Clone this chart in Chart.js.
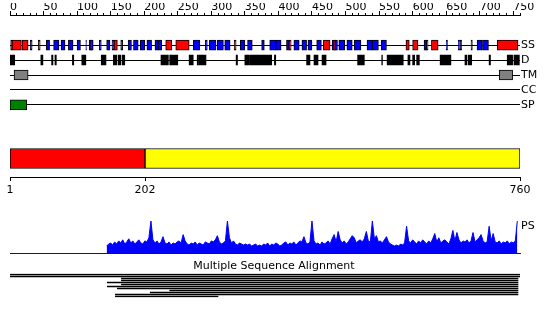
<!DOCTYPE html>
<html>
<head>
<meta charset="utf-8">
<script src="https://cdn.jsdelivr.net/npm/chart.js@4.4.1/dist/chart.umd.min.js"></script>
<style>
  html, body { margin: 0; padding: 0; background: #fff; }
  body { width: 550px; height: 317px; position: relative; overflow: hidden; }
  canvas { position: absolute; left: 0; }
</style>
</head>
<body>
<canvas id="ruler" width="550" height="40" style="top:0"></canvas>
<canvas id="tracks" width="550" height="90" style="top:30px"></canvas>
<canvas id="domains" width="550" height="60" style="top:140px"></canvas>
<canvas id="profile" width="550" height="49" style="top:212px"></canvas>
<canvas id="msa" width="550" height="45" style="top:258px"></canvas>
<script>
const seqLength = 760;

// feature tracks, residue ranges
const trackNames = ["SS", "D", "TM", "CC", "SP"];
const ssHelix = [[3, 17], [18, 27], [42, 45], [120, 122], [155, 160], [232, 241], [247, 267],
  [334, 337], [416, 419], [467, 477], [483, 485], [590, 595], [600, 608], [621, 623],
  [628, 638], [669, 671], [726, 757]];
const ssStrand = [[1, 3], [30, 33], [54, 59], [65, 73], [76, 82], [87, 94], [100, 105],
  [113, 114], [118, 124], [133, 136], [144, 149], [152, 155], [165, 168], [176, 181],
  [184, 191], [194, 201], [204, 211], [216, 221], [221, 226], [273, 283], [291, 294],
  [297, 307], [309, 318], [320, 328], [343, 350], [354, 361], [375, 379], [387, 396],
  [396, 404], [412, 416], [423, 431], [435, 442], [444, 450], [457, 464], [480, 488],
  [490, 499], [502, 510], [513, 523], [532, 540], [540, 549], [553, 561], [617, 621],
  [650, 652], [668, 669], [671, 673], [687, 689], [696, 703], [704, 713]];
const disorder = [[0, 7], [46, 49], [62, 64], [67, 69], [93, 95], [107, 113], [136, 143],
  [154, 159], [161, 165], [167, 171], [225, 236], [238, 250], [267, 273], [279, 281],
  [282, 292], [337, 339], [350, 357], [358, 390], [394, 396], [442, 447], [453, 459],
  [465, 471], [518, 528], [554, 555], [562, 586], [593, 596], [600, 603], [606, 610],
  [641, 657], [678, 681], [683, 688], [714, 716], [741, 749], [751, 759]];
const transmembrane = [[6, 27], [729, 749]];
const coiledCoil = [];
const signalPeptide = [[0, 25]];

// domains
const domainRanges = [[1, 202], [202, 760]];
const domainColors = ["#ff0000", "#ffff00"];
const domainTicks = [1, 202, 760];

// PS profile, one value every 3 residues from residue 144
const psStart = 144;
const psStep = 3;
const psMax = 32;
const psValues = [
  7, 9, 10, 8, 11, 9, 12, 10, 13, 9,
  11, 14, 10, 12, 9, 11, 13, 10, 9, 12,
  11, 15, 31, 13, 10, 12, 9, 11, 16, 10,
  9, 11, 8, 10, 9, 11, 12, 10, 18, 12,
  9, 8, 10, 9, 11, 8, 10, 9, 8, 11,
  10, 9, 12, 11, 13, 17, 11, 9, 10, 12,
  31, 15, 10, 12, 9, 8, 10, 9, 8, 9,
  8, 9, 7, 8, 9, 7, 8, 7, 9, 8,
  10, 7, 9, 8, 10, 9, 7, 8, 10, 11,
  8, 10, 9, 11, 8, 10, 12, 11, 16, 10,
  9, 11, 31, 12, 9, 10, 8, 11, 9, 10,
  12, 9, 14, 18, 11, 21, 13, 10, 12, 9,
  11, 14, 17, 15, 10, 12, 13, 11, 14, 21,
  12, 11, 31, 14, 17, 11, 12, 10, 13, 16,
  11, 9, 8, 7, 8, 7, 9, 8, 10, 26,
  12, 10, 13, 11, 9, 12, 10, 13, 11, 9,
  12, 10, 14, 19, 11, 15, 10, 12, 13, 11,
  9, 14, 22, 12, 20, 13, 10, 12, 11, 13,
  10, 12, 20, 11, 13, 15, 18, 12, 10, 11,
  26, 12, 19, 11, 10, 12, 9, 11, 10, 12,
  9, 11, 10, 12, 31,
];
const psLabelAt = 26;

// alignment rows
const msaTitle = "Multiple Sequence Alignment";
const msaRanges = [[0, 760], [0, 760], [166, 757], [166, 757], [145, 757], [166, 757],
  [145, 757], [160, 757], [238, 757], [209, 757], [157, 757], [157, 310]];

Chart.defaults.font.family = "'DejaVu Sans', sans-serif";
Chart.defaults.font.size = 11;
Chart.defaults.color = "#000";
Chart.defaults.animation = false;
Chart.defaults.responsive = false;
Chart.defaults.maintainAspectRatio = false;
Chart.defaults.plugins.legend.display = false;
Chart.defaults.plugins.tooltip.enabled = false;

const fixWidth = (w) => (scale) => { scale.width = w; };
const fixHeight = (h) => (scale) => { scale.height = h; };

// top ruler: labelled ticks every 50 on top, short ticks every 10 below
new Chart(document.getElementById("ruler"), {
  type: "line",
  data: { datasets: [] },
  options: {
    layout: { padding: { left: 10, right: 30, top: 3, bottom: 0 } },
    scales: {
      x: {
        type: "linear", position: "top", min: 0, max: seqLength,
        ticks: { stepSize: 50, autoSkip: false, includeBounds: false, align: "start",
          padding: 0, maxRotation: 0, font: { lineHeight: "8px" } },
        grid: { color: "#000", tickLength: 2 },
        border: { display: false },
      },
      x2: {
        type: "linear", position: "bottom", min: 0, max: seqLength,
        ticks: { display: false, stepSize: 10, includeBounds: false, autoSkip: false },
        grid: { color: "#000", drawTicks: false },
        border: { color: "#000" },
        afterFit: fixHeight(25),
      },
      y: { display: false },
    },
  },
});

// feature tracks
function trackDataset(ranges, track, color, borderWidth) {
  return {
    data: ranges.map((r) => ({ x: r, y: track })),
    backgroundColor: color,
    borderColor: "#000",
    borderWidth: borderWidth,
    borderSkipped: false,
    grouped: false,
    barThickness: 10,
  };
}

new Chart(document.getElementById("tracks"), {
  type: "bar",
  data: {
    labels: trackNames,
    datasets: [
      trackDataset(ssHelix, "SS", "#ff0000", 1),
      trackDataset(ssStrand, "SS", "#0000ff", 1),
      trackDataset(disorder, "D", "#000", 0),
      trackDataset(transmembrane, "TM", "#808080", 1),
      trackDataset(coiledCoil, "CC", "#000", 0),
      trackDataset(signalPeptide, "SP", "#008000", 1),
    ],
  },
  options: {
    indexAxis: "y",
    layout: { padding: { left: 10, top: 7.5, bottom: 7.5 } },
    scales: {
      x: { type: "linear", min: 0, max: seqLength, display: false },
      y: {
        position: "right",
        grid: { offset: false, color: "#000", drawTicks: false },
        border: { display: false },
        ticks: { padding: 1, autoSkip: false },
        afterFit: fixWidth(30),
      },
    },
  },
});

// domain bar with its own axis
new Chart(document.getElementById("domains"), {
  type: "bar",
  data: {
    labels: ["domains"],
    datasets: [{
      data: domainRanges.map((r) => ({ x: r, y: "domains" })),
      backgroundColor: domainColors,
      borderColor: "#000",
      borderWidth: 1,
      borderSkipped: false,
      barThickness: 20,
    }],
  },
  options: {
    indexAxis: "y",
    layout: { padding: { left: 10, right: 30 } },
    scales: {
      x: {
        type: "linear", min: 1, max: seqLength,
        afterBuildTicks: (s) => { s.ticks = domainTicks.map((v) => ({ value: v })); },
        ticks: { autoSkip: false, padding: 3, maxRotation: 0, font: { lineHeight: "13px" } },
        grid: { drawOnChartArea: false, color: "#000", tickLength: 4 },
        border: { color: "#000" },
      },
      y: { display: false },
    },
  },
});

// PS profile
new Chart(document.getElementById("profile"), {
  type: "line",
  data: {
    datasets: [{
      data: psValues.map((v, i) => ({ x: psStart + i * psStep, y: v })),
      borderColor: "#0000ff",
      backgroundColor: "#0000ff",
      borderWidth: 1,
      pointRadius: 0,
      tension: 0,
      fill: "origin",
    }],
  },
  options: {
    layout: { padding: { left: 10, top: 8, bottom: 4 } },
    scales: {
      x: {
        type: "linear", min: 0, max: seqLength,
        ticks: { display: false },
        grid: { drawOnChartArea: false, drawTicks: false },
        border: { color: "#0000ff" },
        afterFit: fixHeight(0),
      },
      y: {
        position: "right", min: 0, max: psMax,
        afterBuildTicks: (s) => { s.ticks = [{ value: psLabelAt }]; },
        ticks: { padding: 1, callback: () => "PS" },
        grid: { display: false, drawTicks: false },
        border: { display: false },
        afterFit: fixWidth(30),
      },
    },
  },
});

// multiple sequence alignment
const msaLabels = msaRanges.map((_, i) => "seq" + (i + 1));
new Chart(document.getElementById("msa"), {
  type: "bar",
  data: {
    labels: msaLabels,
    datasets: [{
      data: msaRanges.map((r, i) => ({ x: r, y: msaLabels[i] })),
      backgroundColor: "#000",
      borderWidth: 0,
      barThickness: 1,
    }],
  },
  options: {
    indexAxis: "y",
    layout: { padding: { left: 10, right: 12, bottom: 5.5 } },
    plugins: {
      title: {
        display: true, text: msaTitle, color: "#000",
        font: { size: 11, weight: "normal", lineHeight: "12px" },
        padding: { top: 2.5, bottom: 1 },
      },
    },
    scales: {
      x: { type: "linear", min: 0, max: seqLength, display: false },
      y: {
        position: "right",
        ticks: { display: false },
        grid: { display: false, drawTicks: false },
        border: { display: false },
        afterFit: fixWidth(18),
      },
    },
  },
});
</script>
</body>
</html>
